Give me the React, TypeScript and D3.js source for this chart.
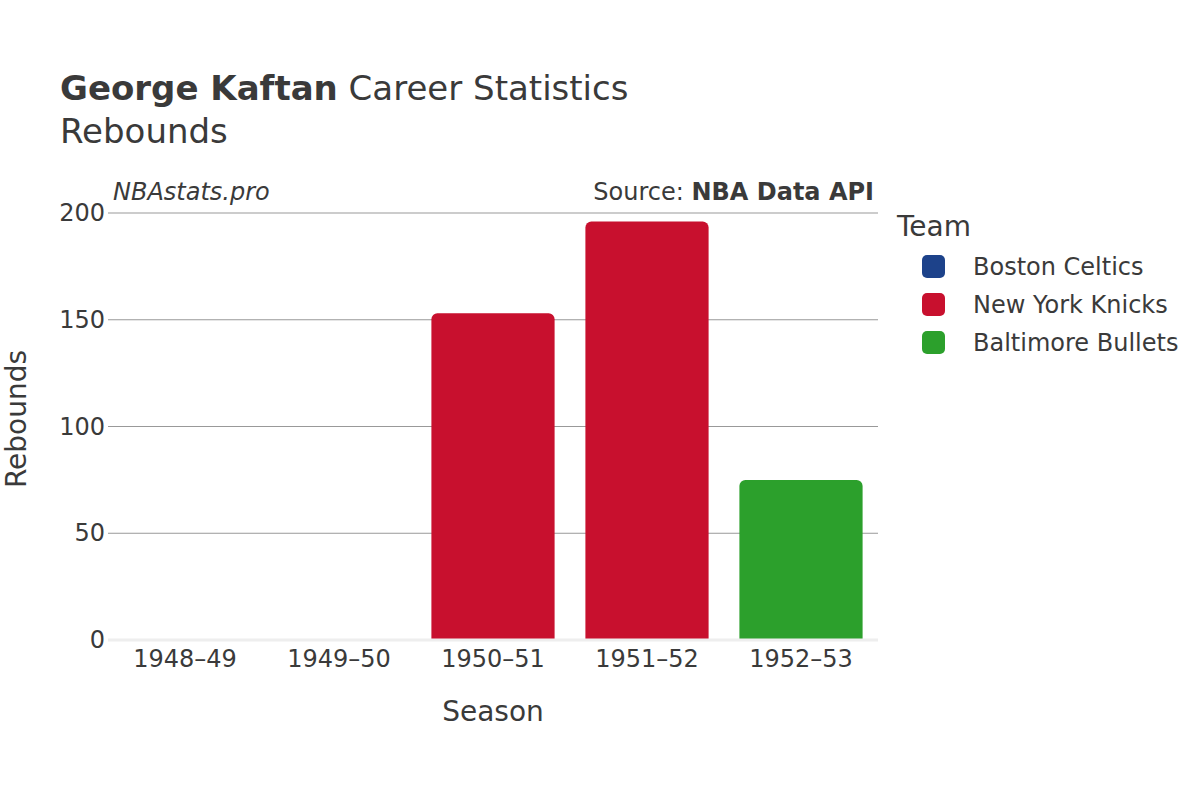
import React from "react";
import * as d3 from "d3";

const seasons = ["1948–49", "1949–50", "1950–51", "1951–52", "1952–53"];
const teams = ["Boston Celtics", "New York Knicks", "Baltimore Bullets"];
const teamColors = ["#1d428a", "#c8102e", "#2ca02c"];
// rebounds per season, team for each season
const seasonTeam = ["Boston Celtics", "Boston Celtics", "New York Knicks", "New York Knicks", "Baltimore Bullets"];
const rebounds = [0, 0, 153, 196, 75];
const yTicks = [0, 50, 100, 150, 200];

const width = 1200;
const height = 800;
const margin = { left: 108, right: 878, top: 213, bottom: 640 };
const font = "'DejaVu Sans', sans-serif";
const textColor = "#3a3a3a";

function topRounded(x: number, y: number, w: number, h: number, r: number) {
  if (h <= 0) return "";
  const rr = Math.min(r, h, w / 2);
  const p = d3.path();
  p.moveTo(x, y + h);
  p.lineTo(x, y + rr);
  p.arcTo(x, y, x + rr, y, rr);
  p.lineTo(x + w - rr, y);
  p.arcTo(x + w, y, x + w, y + rr, rr);
  p.lineTo(x + w, y + h);
  p.closePath();
  return p.toString();
}

export default function App() {
  const x = d3.scaleBand().domain(seasons).range([margin.left, margin.right]).paddingInner(0.2).paddingOuter(0.1);
  const y = d3.scaleLinear().domain([0, 200]).range([margin.bottom, margin.top]);
  const color = d3.scaleOrdinal<string, string>().domain(teams).range(teamColors);

  return (
    <svg width={width} height={height} style={{ display: "block", position: "absolute", left: 0, top: 0 }} fontFamily={font}>
      <rect width={width} height={height} fill="#fff" />
      <text x={60} y={100} fontSize={34} fill={textColor}>
        <tspan fontWeight="bold">George Kaftan</tspan>
        <tspan> Career Statistics</tspan>
      </text>
      <text x={60} y={143} fontSize={34} fill={textColor}>Rebounds</text>

      <text x={113} y={200} fontSize={24} fontStyle="italic" fill={textColor}>NBAstats.pro</text>
      <text x={874} y={200} fontSize={24} textAnchor="end" fill={textColor}>
        <tspan>Source: </tspan>
        <tspan fontWeight="bold">NBA Data API</tspan>
      </text>

      {yTicks.filter(t => t > 0).map(t => (
        <line key={t} x1={margin.left} x2={margin.right} y1={y(t)} y2={y(t)} stroke="#999" strokeWidth={1} />
      ))}
      {yTicks.map(t => (
        <text key={"l" + t} x={105} y={y(t) + 8} fontSize={24} textAnchor="end" fill={textColor}>{t}</text>
      ))}

      {seasons.map((s, i) => {
        const bx = x(s)!;
        const by = y(rebounds[i]);
        return (
          <path key={s} d={topRounded(bx, by, x.bandwidth(), y(0) - by, 6)} fill={color(seasonTeam[i])} />
        );
      })}

      <line x1={margin.left} x2={margin.right} y1={y(0)} y2={y(0)} stroke="#eeeeee" strokeWidth={3} />

      {seasons.map(s => (
        <text key={"x" + s} x={x(s)! + x.bandwidth() / 2} y={667} fontSize={24} textAnchor="middle" fill={textColor}>{s}</text>
      ))}

      <text x={(margin.left + margin.right) / 2} y={721} fontSize={28} textAnchor="middle" fill={textColor}>Season</text>
      <text transform={`translate(26,419) rotate(-90)`} fontSize={28} textAnchor="middle" fill={textColor}>Rebounds</text>

      <text x={897} y={236} fontSize={28} fill={textColor}>Team</text>
      {teams.map((t, i) => (
        <g key={t} transform={`translate(922,${266 + i * 38})`}>
          <rect x={0} y={-11} width={23} height={23} rx={5} fill={color(t)} />
          <text x={51} y={9} fontSize={24} fill={textColor}>{t}</text>
        </g>
      ))}
    </svg>
  );
}
